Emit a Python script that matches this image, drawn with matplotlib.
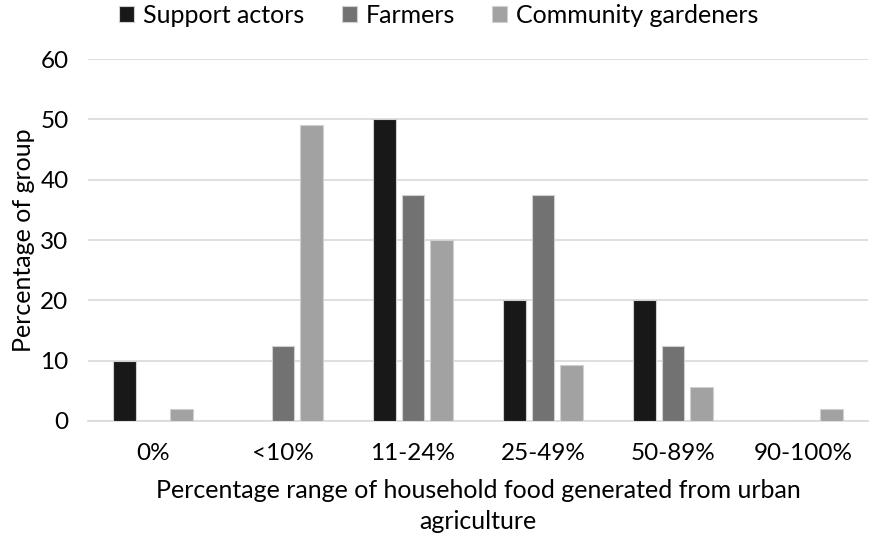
import numpy as np
import matplotlib.pyplot as plt

plt.rcParams['font.family'] = ['Lato', 'DejaVu Sans']

categories = ["0%", "<10%", "11-24%", "25-49%", "50-89%", "90-100%"]
support_actors = [10, 0, 50, 20, 20, 0]
farmers = [0, 12.5, 37.5, 37.5, 12.5, 0]
community_gardeners = [2, 49, 30, 9.3, 5.7, 2]

series = [
    ("Support actors", support_actors, "#181818"),
    ("Farmers", farmers, "#727272"),
    ("Community gardeners", community_gardeners, "#a2a2a2"),
]

fig = plt.figure(figsize=(8.74, 5.35), dpi=100)
ax = fig.add_axes([0.1007, 0.2131, 0.8923, 0.6766])

x = np.arange(len(categories))
width = 0.175
step = 0.22
for i, (name, vals, color) in enumerate(series):
    ax.bar(x + (i - 1) * step, vals, width, color=color, label=name,
           edgecolor="#d0d0d0", linewidth=0.8, zorder=3)

ax.set_xlim(-0.5, len(categories) - 0.5)
ax.set_ylim(0, 60)
ax.set_yticks(range(0, 61, 10))
ax.set_xticks(x)
ax.set_xticklabels(categories)
ax.yaxis.grid(True, color="#d9d9d9", linewidth=1.2, zorder=0)
for side in ("top", "left", "right"):
    ax.spines[side].set_visible(False)
ax.spines["bottom"].set_color("#d9d9d9")
ax.spines["bottom"].set_linewidth(1.2)
ax.tick_params(axis="both", length=0, labelsize=17.5, colors="black")
ax.tick_params(axis="x", pad=16)
ax.tick_params(axis="y", pad=14)

ax.set_ylabel("Percentage of group", fontsize=18, labelpad=4)
ax.set_xlabel("Percentage range of household food generated from urban\nagriculture",
              fontsize=18, labelpad=11, linespacing=1.4)

ax.legend(loc="upper center", bbox_to_anchor=(0.45, 1.215), ncol=3, frameon=False,
          fontsize=18, handlelength=0.6, handleheight=0.6, handletextpad=0.35,
          columnspacing=1.5)

fig.savefig("out.png", dpi=100)
